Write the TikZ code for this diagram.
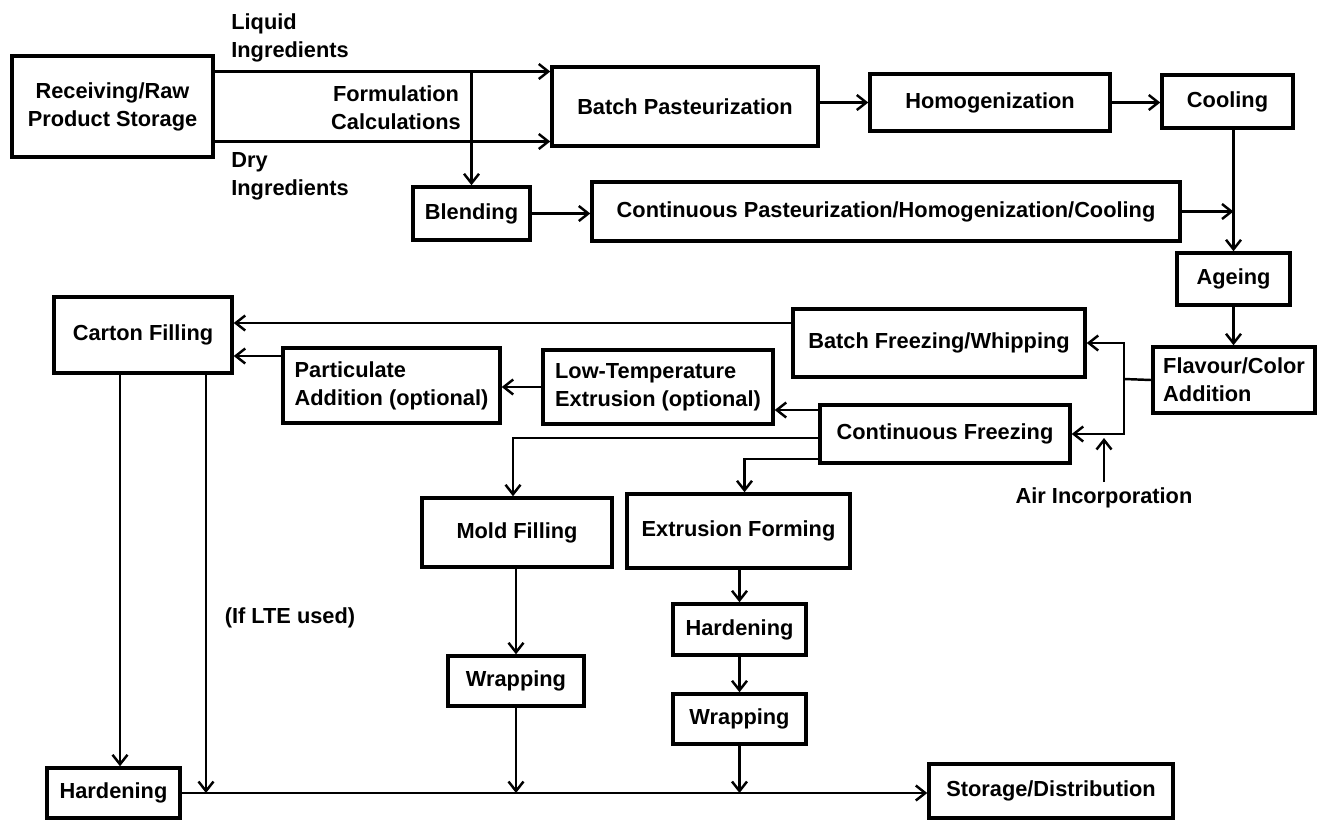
\documentclass[tikz,border=0pt]{standalone}
\usepackage{fontspec}
\setmainfont{Liberation Sans}
\usetikzlibrary{arrows.meta}

\begin{document}
\begin{tikzpicture}[x=0.02cm,y=-0.02cm,
	box/.style={draw,line width=2pt,inner sep=2pt,align=center,font=\fontsize{12.4}{16}\selectfont\bfseries},
	lbl/.style={inner sep=0pt,font=\fontsize{12.4}{16}\selectfont\bfseries},
	ln/.style={line width=1.4pt},
	arr/.style={line width=1.4pt,-{Straight Barb[length=1.9mm,width=3mm]}}]
	% 画布大小
	\useasboundingbox (0,0) rectangle (1317,822);
	
	% 第一行:原料与巴氏杀菌
	\node[box,minimum width=4.02cm,minimum height=2.02cm] (recv) at (112.5,106.5) {Receiving/Raw\\Product Storage};
	\node[box,minimum width=5.32cm,minimum height=1.58cm] (batchp) at (685,106.5) {Batch Pasteurization};
	\node[box,minimum width=4.8cm,minimum height=1.14cm] (homog) at (990,102.5) {Homogenization};
	\node[box,minimum width=2.62cm,minimum height=1.06cm] (cool) at (1227.5,101.5) {Cooling};
	\node[box,minimum width=2.34cm,minimum height=1.06cm] (blend) at (471.5,213.5) {Blending};
	\node[box,minimum width=11.76cm,minimum height=1.18cm] (contp) at (886,211.5) {Continuous Pasteurization/Homogenization/Cooling};
	\node[box,minimum width=2.26cm,minimum height=1.04cm] (ageing) at (1233.5,279) {Ageing};
	\node[box,align=left,minimum width=3.24cm,minimum height=1.32cm] (flavour) at (1234,380) {Flavour/Color\\Addition};
	
	% 文字标注
	\node[lbl,anchor=west,align=left] (liquid) at (231,38) {Liquid\\Ingredients};
	\node[lbl,anchor=west,align=left] (dry) at (231,176) {Dry\\Ingredients};
	\node[lbl,align=center] (formul) at (396,108) {Formulation\\Calculations};
	
	% 冷冻部分
	\node[box,minimum width=5.84cm,minimum height=1.36cm] (batchf) at (939,343) {Batch Freezing/Whipping};
	\node[box,minimum width=5cm,minimum height=1.16cm] (contf) at (945,434) {Continuous Freezing};
	\node[box,minimum width=3.56cm,minimum height=1.52cm] (carton) at (143,335) {Carton Filling};
	\node[box,align=left,minimum width=4.34cm,minimum height=1.5cm] (partic) at (391.5,385.5) {Particulate\\Addition (optional)};
	\node[box,align=left,minimum width=4.6cm,minimum height=1.48cm] (lowt) at (658,387) {Low-Temperature\\Extrusion (optional)};
	\node[lbl] (air) at (1104,498) {Air Incorporation};
	
	% 成型与包装
	\node[box,minimum width=3.8cm,minimum height=1.38cm] (mold) at (517,532.5) {Mold Filling};
	\node[box,minimum width=4.46cm,minimum height=1.48cm] (extr) at (738.5,531) {Extrusion Forming};
	\node[box,minimum width=2.66cm,minimum height=1.02cm] (hard2) at (739.5,629.5) {Hardening};
	\node[box,minimum width=2.66cm,minimum height=1cm] (wrap2) at (739.5,719) {Wrapping};
	\node[box,minimum width=2.72cm,minimum height=1cm] (wrap1) at (516,681) {Wrapping};
	\node[box,minimum width=2.66cm,minimum height=1cm] (hard1) at (113.5,793) {Hardening};
	\node[box,minimum width=4.88cm,minimum height=1.08cm] (store) at (1051,791) {Storage/Distribution};
	\node[lbl] (lte) at (290,618) {(If LTE used)};
	
	% 第一行的箭头
	\draw[arr] ([yshift=0.7cm]recv.east) -- ([yshift=0.7cm]batchp.west);
	\draw[arr] ([yshift=-0.7cm]recv.east) -- ([yshift=-0.7cm]batchp.west);
	\draw[arr] ([yshift=0.7cm]recv.east -| blend.north) -- (blend.north);
	\draw[arr] (batchp.east |- homog) -- (homog.west);
	\draw[arr] (homog.east) -- (homog.east -| cool.west);
	\draw[arr] (blend.east) -- (blend.east -| contp.west);
	\draw[arr] (ageing.north |- cool.south) -- (ageing.north);
	\draw[arr] (contp.east) -- (contp.east -| ageing.north);
	\draw[arr] (ageing.south) -- (ageing.south |- flavour.north);
	
	% 分流到两种冷冻
	\coordinate (split) at (1124,379);
	\draw[ln] (flavour.west) -- (split);
	\draw[arr] (split) |- (batchf.east);
	\draw[arr] (split) |- (contf.east);
	\draw[arr] ([yshift=3pt]air.north) -- ([yshift=-0.08cm]air.north |- contf.east);
	
	% 向左流向灌装
	\draw[arr] ([yshift=0.4cm]batchf.west) -- ([yshift=0.4cm]batchf.west -| carton.east);
	\draw[arr] ([yshift=0.59cm]partic.west) -- ([yshift=0.59cm]partic.west -| carton.east);
	\draw[arr] (lowt.west) -- (lowt.west -| partic.east);
	\draw[arr] ([yshift=0.48cm]contf.west) -- ([yshift=0.48cm]contf.west -| lowt.east);
	\draw[arr] ([yshift=-0.08cm]contf.west) -| ([xshift=-0.08cm]mold.north);
	\draw[arr] ([yshift=-0.5cm]contf.west) -| ([xshift=0.12cm]extr.north);
	
	% 向下
	\draw[arr] (mold.south -| wrap1.north) -- (wrap1.north);
	\draw[arr] (extr.south -| hard2.north) -- (hard2.north);
	\draw[arr] (hard2.south) -- (wrap2.north);
	\draw[arr] ([xshift=-0.46cm]carton.south) -- ([xshift=-0.46cm]carton.south |- hard1.north);
	\draw[arr] ([xshift=1.26cm]carton.south) -- ([xshift=1.26cm]carton.south |- hard1.east);
	\draw[arr] (wrap1.south) -- (wrap1.south |- hard1.east);
	\draw[arr] (wrap2.south) -- (wrap2.south |- hard1.east);
	
	% 最后入库
	\draw[arr] (hard1.east) -- (hard1.east -| store.west);
\end{tikzpicture}
\end{document}
